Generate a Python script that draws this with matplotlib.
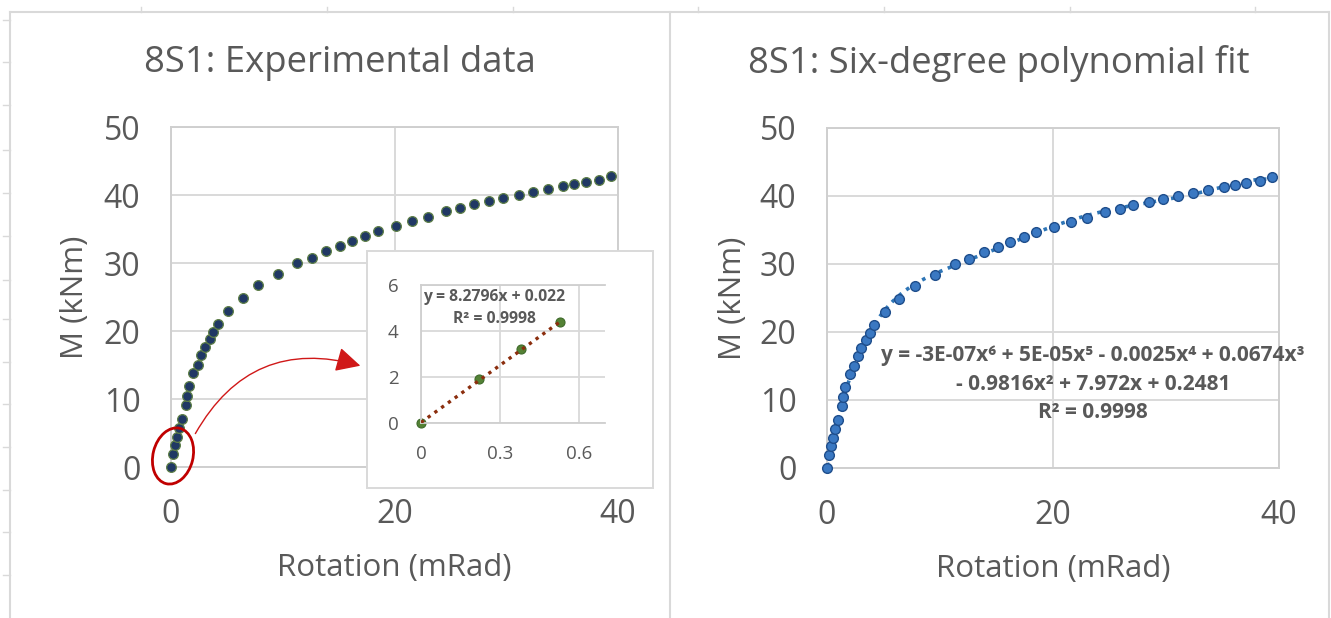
import numpy as np
import matplotlib
matplotlib.use("Agg")
import matplotlib.pyplot as plt
from matplotlib.patches import Ellipse, Rectangle, FancyArrowPatch
from matplotlib.lines import Line2D
from matplotlib.transforms import IdentityTransform

# ---------------- data ----------------
rotation = [0.0, 0.22, 0.38, 0.53, 0.75, 0.95, 1.3, 1.45, 1.6, 2.0, 2.4, 2.7, 3.0,
            3.45, 3.8, 4.2, 5.1, 6.4, 7.8, 9.6, 11.3, 12.6, 13.9, 15.1, 16.2, 17.4,
            18.5, 20.1, 21.6, 23.0, 24.6, 25.9, 27.1, 28.5, 29.7, 31.1, 32.4, 33.7,
            35.1, 36.1, 37.1, 38.3, 39.4]
moment = [0.0, 1.9, 3.2, 4.4, 5.8, 7.1, 9.1, 10.4, 11.9, 13.8, 15.0, 16.4, 17.6,
          18.8, 19.9, 21.0, 22.9, 24.9, 26.8, 28.4, 30.0, 30.8, 31.8, 32.5, 33.3, 33.9,
          34.7, 35.4, 36.2, 36.8, 37.6, 38.1, 38.7, 39.1, 39.6, 40.0, 40.5, 40.9,
          41.3, 41.6, 41.9, 42.2, 42.8]
inset_count = 4
lin_slope, lin_intercept = 8.2796, 0.022

title_left = "8S1: Experimental data"
title_right = "8S1: Six-degree polynomial fit"
xlabel = "Rotation (mRad)"
ylabel = "M (kNm)"
x_ticks = [0, 20, 40]
y_ticks = [0, 10, 20, 30, 40, 50]
inset_x_ticks = [0, 0.3, 0.6]
inset_x_ticklabels = ["0", "0.3", "0.6"]
inset_y_ticks = [0, 2, 4, 6]
inset_eq = ["y = 8.2796x + 0.022", "R\u00b2 = 0.9998"]
poly_eq = ["y = -3E-07x\u2076 + 5E-05x\u2075 - 0.0025x\u2074 + 0.0674x\u00b3",
           "- 0.9816x\u00b2 + 7.972x + 0.2481",
           "R\u00b2 = 0.9998"]

# ---------------- style ----------------
W, H = 1331, 618
FONT = ["Open Sans", "DejaVu Sans"]
BOLD_FONT = ["Liberation Sans Narrow", "Open Sans", "DejaVu Sans"]
TXT = "#595959"
GRID = "#D9D9D9"
plt.rcParams["font.family"] = FONT

fig = plt.figure(figsize=(W / 100, H / 100), dpi=100)
fig.patch.set_facecolor("white")


def px_axes(l, t, r, b):
    return fig.add_axes([l / W, 1 - b / H, (r - l) / W, (b - t) / H])


def style_main(ax, ylab_x):
    ax.set_xlim(0, 40)
    ax.set_ylim(0, 50)
    ax.set_xticks(x_ticks)
    ax.set_yticks(y_ticks)
    ax.grid(True, color=GRID, lw=1.4)
    ax.set_axisbelow(True)
    for s in ax.spines.values():
        s.set_color("#CFCFCF")
        s.set_linewidth(1.4)
    ax.tick_params(length=0, labelsize=23, labelcolor=TXT, pad=22)
    ax.set_xlabel(xlabel, fontsize=22.5, color=TXT)
    ax.set_ylabel(ylabel, fontsize=22.5, color=TXT)
    ax.xaxis.set_label_coords(0.5, -0.253)
    ax.yaxis.set_label_coords(ylab_x, 0.5)


# ---------------- left panel ----------------
axL = px_axes(171, 127, 618, 467)
style_main(axL, -0.181)
axL.plot(rotation, moment, ls="", marker="o", ms=7.0, mfc="#203864",
         mec="#5E7F48", mew=0.9, clip_on=False, zorder=3)
fig.text(340 / W, 1 - 63 / H, title_left, fontsize=26.3, color=TXT,
         ha="center", va="center")

# ---------------- right panel ----------------
axR = px_axes(827, 128, 1279, 468)
style_main(axR, -0.175)
coef = np.polyfit(rotation, moment, 6)
xs = np.linspace(0, max(rotation), 300)
axR.plot(xs, np.polyval(coef, xs), ls=(0, (1, 1.6)), lw=2.6, color="#2E75B6",
         zorder=2)
axR.plot(rotation, moment, ls="", marker="o", ms=7.0, mfc="#3A78C2",
         mec="#1F4E8C", mew=1.0, clip_on=False, zorder=3)
fig.text(999 / W, 1 - 63 / H, title_right, fontsize=26.3, color=TXT,
         ha="center", va="center")
for line, ypx in zip(poly_eq, [355, 385, 413]):
    fig.text(1093 / W, 1 - ypx / H, line, fontsize=15, color=TXT,
             fontweight="bold", family=BOLD_FONT, ha="center", va="center")

# ---------------- inset ----------------
box = Rectangle((367 / W, 1 - 488 / H), 286 / W, 237 / H, transform=fig.transFigure,
                facecolor="white", edgecolor=GRID, lw=1.4, zorder=1)
fig.patches.append(box)

axI = px_axes(421, 285, 605, 423)
axI.set_zorder(2)
axI.patch.set_alpha(0)
axI.set_xlim(0, 0.7)
axI.set_ylim(0, 6)
axI.set_xticks(inset_x_ticks)
axI.set_xticklabels(inset_x_ticklabels)
axI.set_yticks(inset_y_ticks)
axI.grid(True, color=GRID, lw=1.3)
axI.set_axisbelow(True)
for k, s in axI.spines.items():
    s.set_color("#CFCFCF")
    s.set_linewidth(1.3)
axI.spines["right"].set_visible(False)
axI.tick_params(length=0, labelsize=13.5, labelcolor=TXT, pad=16)
xi = np.array(rotation[:inset_count])
yi = np.array(moment[:inset_count])
axI.plot([0, xi.max()], [lin_intercept, lin_slope * xi.max() + lin_intercept],
         ls=(0, (1, 1.5)), lw=2.4, color="#8B2E0E", zorder=3)
axI.plot(xi, yi, ls="", marker="o", ms=6.5, mfc="#548235", mec="#3E6A2A",
         mew=0.8, clip_on=False, zorder=2)
axI.text(0.28, 5.48, inset_eq[0], fontsize=11.3, fontweight="bold", color=TXT,
         family=BOLD_FONT, ha="center", va="center")
axI.text(0.28, 4.52, inset_eq[1], fontsize=11.3, fontweight="bold", color=TXT,
         family=BOLD_FONT, ha="center", va="center")

# ---------------- annotation: ellipse + curved arrow ----------------
ell = Ellipse((173, H - 456), 40, 57, angle=-14, transform=IdentityTransform(),
              fill=False, edgecolor="#C00000", lw=2.0, zorder=5)
fig.add_artist(ell)
arr = FancyArrowPatch((194, H - 436), (363, H - 366.5),
                      connectionstyle="arc3,rad=-0.4",
                      arrowstyle="-|>,head_length=0.75,head_width=0.38",
                      mutation_scale=20, color="#D01818", lw=1.0,
                      transform=IdentityTransform(), zorder=5)
fig.add_artist(arr)

# ---------------- sheet frame ----------------
def pxline(x0, y0, x1, y1, color=GRID, lw=1.5):
    fig.add_artist(Line2D([x0, x1], [H - y0, H - y1], transform=IdentityTransform(),
                          color=color, lw=lw))


pxline(10, 12, 1329, 12)
pxline(10, 12, 10, 618)
pxline(670, 12, 670, 618)
pxline(1329, 12, 1329, 618)
for x in [141, 327, 513, 698, 884, 1070, 1255]:
    pxline(x, 7, x, 12, lw=1.0)
for y in [20, 62, 105, 150, 193, 236, 280, 319, 362, 404, 447, 490, 532, 575]:
    pxline(3, y, 10, y, lw=1.0)

fig.savefig("out.png", dpi=100, facecolor="white")
